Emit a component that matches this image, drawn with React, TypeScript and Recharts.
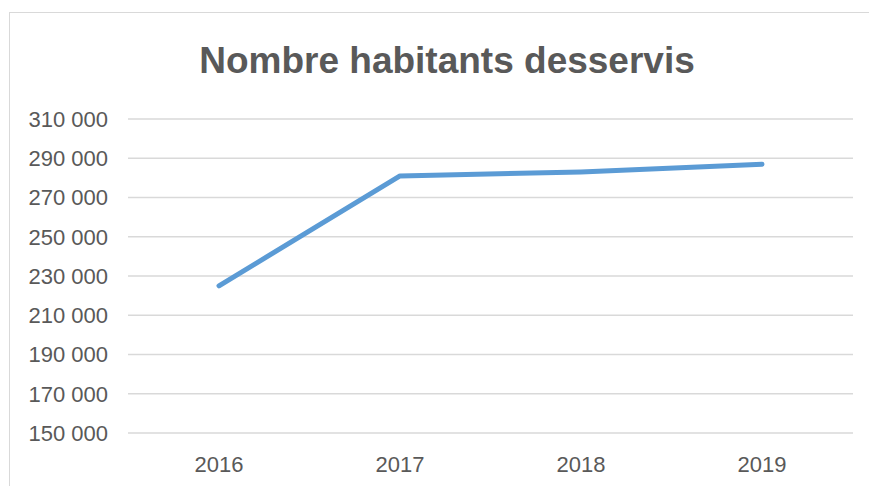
import React from "react";
import { LineChart, Line, XAxis, YAxis, CartesianGrid } from "recharts";

const years = ["2016", "2017", "2018", "2019"];
const habitants = [225000, 281000, 283000, 287000];
const yTicks = [150000, 170000, 190000, 210000, 230000, 250000, 270000, 290000, 310000];

const data = years.map((year, i) => ({ year, habitants: habitants[i] }));

const FONT = "'Liberation Sans', Arial, sans-serif";
const TEXT = "#595959";

const fmt = (v: number) => `${Math.round(v / 1000)} 000`;

export default function App() {
  return (
    <div
      style={{
        position: "absolute",
        left: 0,
        top: 0,
        width: 869,
        height: 486,
        overflow: "hidden",
        background: "#fff",
        fontFamily: FONT,
      }}
    >
      {/* chart frame */}
      <div
        style={{
          position: "absolute",
          left: 9,
          top: 12,
          width: 900,
          height: 520,
          border: "1.5px solid #d9d9d9",
        }}
      />
      <div
        style={{
          position: "absolute",
          left: 0,
          width: 894,
          top: 39,
          textAlign: "center",
          fontSize: 37,
          fontWeight: "bold",
          color: TEXT,
          lineHeight: "44px",
        }}
      >
        Nombre habitants desservis
      </div>
      <div style={{ position: "absolute", left: 0, top: 0 }}>
        <LineChart
          width={869}
          height={486}
          data={data}
          margin={{ top: 119, right: 16, bottom: 23, left: 28 }}
        >
          <CartesianGrid vertical={false} stroke="#d9d9d9" strokeWidth={1.5} />
          <XAxis
            dataKey="year"
            axisLine={false}
            tickLine={false}
            tickSize={0}
            tickMargin={23}
            height={30}
            padding={{ left: 91, right: 91 }}
            tick={{ fill: TEXT, fontSize: 22, fontFamily: FONT }}
          />
          <YAxis
            domain={[150000, 310000]}
            ticks={yTicks}
            tickFormatter={fmt}
            axisLine={false}
            tickLine={false}
            tickSize={0}
            tickMargin={20}
            width={100}
            tick={{ fill: TEXT, fontSize: 22, fontFamily: FONT }}
          />
          <Line
            type="linear"
            dataKey="habitants"
            stroke="#5B9BD5"
            strokeWidth={5}
            strokeLinecap="round"
            strokeLinejoin="round"
            dot={false}
            activeDot={false}
            isAnimationActive={false}
          />
        </LineChart>
      </div>
    </div>
  );
}
